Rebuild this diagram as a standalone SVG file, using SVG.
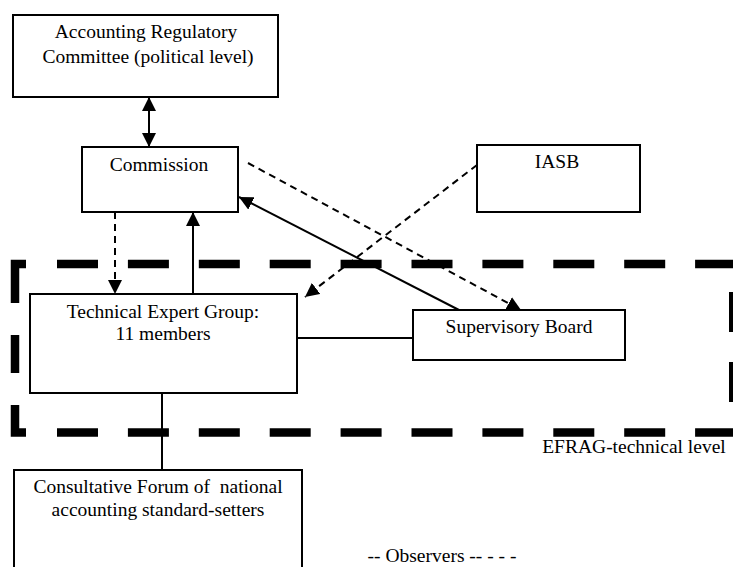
<svg xmlns="http://www.w3.org/2000/svg" width="733" height="567" viewBox="0 0 733 567">
<defs>
<style>
.box{fill:#fff;stroke:#000;stroke-width:2}
.t{font-family:"Liberation Serif","Times New Roman",serif;font-size:19.5px;fill:#000;text-anchor:middle;white-space:pre}
.c{stroke:#000;stroke-width:2;fill:none}
.d{stroke:#000;stroke-width:2;fill:none;stroke-dasharray:7 5}
.fr{stroke:#000;stroke-width:8.5;fill:none}
</style>
<marker id="ah" viewBox="0 0 14 14" refX="14" refY="7" markerWidth="14" markerHeight="14" markerUnits="userSpaceOnUse" orient="auto-start-reverse">
<path d="M0,0 L14,7 L0,14 z" fill="#000"/>
</marker>
</defs>
<rect width="733" height="567" fill="#fff"/>

<g id="efrag-frame">
<line class="fr" x1="57" y1="264" x2="733" y2="264" style="stroke-dasharray:41 29.9"/>
<line class="fr" x1="57" y1="432.5" x2="733" y2="432.5" style="stroke-dasharray:41 29.9"/>
<path class="fr" d="M26,264 H15 V303"/>
<line class="fr" x1="15" y1="335" x2="15" y2="373"/>
<path class="fr" d="M15,405 V432.5 H26"/>
<line x1="731" y1="292" x2="731" y2="332" stroke="#000" stroke-width="4"/>
<line x1="731" y1="362" x2="731" y2="402" stroke="#000" stroke-width="4"/>
<text class="t" x="634" y="453">EFRAG-technical level</text>
</g>

<g id="connectors">
<line class="c" x1="149" y1="97" x2="149" y2="147" marker-start="url(#ah)" marker-end="url(#ah)"/>
<line class="d" x1="115" y1="212" x2="115" y2="294" marker-end="url(#ah)"/>
<line class="c" x1="193" y1="294" x2="193" y2="212" marker-end="url(#ah)"/>
<line class="c" x1="459" y1="310" x2="239" y2="197" marker-end="url(#ah)"/>
<line class="d" x1="248" y1="163" x2="521" y2="310" marker-end="url(#ah)"/>
<line class="d" x1="477" y1="165" x2="305" y2="297" marker-end="url(#ah)"/>
<line class="c" x1="297" y1="338" x2="413" y2="338"/>
<line class="c" x1="162" y1="393" x2="162" y2="470"/>
</g>

<g id="arc">
<rect class="box" x="13" y="15" width="265" height="82"/>
<text class="t" x="146" y="38">Accounting Regulatory</text>
<text class="t" x="148" y="63">Committee (political level)</text>
</g>

<g id="commission">
<rect class="box" x="82" y="147" width="156" height="65"/>
<text class="t" x="159" y="171">Commission</text>
</g>

<g id="iasb">
<rect class="box" x="477" y="145" width="163" height="67"/>
<text class="t" x="557" y="168">IASB</text>
</g>

<g id="teg">
<rect class="box" x="30" y="294" width="267" height="99"/>
<text class="t" x="163" y="318">Technical Expert Group:</text>
<text class="t" x="163" y="340">11 members</text>
</g>

<g id="supervisory-board">
<rect class="box" x="413" y="310" width="212" height="50"/>
<text class="t" x="519" y="333">Supervisory Board</text>
</g>

<g id="consultative-forum">
<rect class="box" x="14" y="470" width="288" height="100"/>
<text class="t" x="158" y="493">Consultative Forum of  national</text>
<text class="t" x="158" y="516">accounting standard-setters</text>
</g>

<g id="legend">
<text class="t" x="442" y="562">-- Observers -- - - -</text>
</g>
</svg>
